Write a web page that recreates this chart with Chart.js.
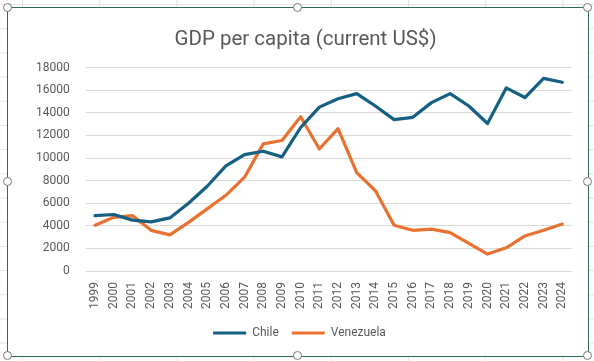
<!DOCTYPE html>
<html>
<head>
<meta charset="utf-8">
<script src="https://cdn.jsdelivr.net/npm/chart.js@4"></script>
<style>
  body {
    margin: 0;
    width: 594px;
    height: 361px;
    overflow: hidden;
    background-color: #fff;
    background-image:
      linear-gradient(to right, #e2e2e2 1px, transparent 1px),
      linear-gradient(to bottom, #e2e2e2 1px, transparent 1px);
    background-size: 77.2px 24.2px;
    background-position: 22px 4px;
    position: relative;
  }
  #frame {
    position: absolute;
    left: 7px;
    top: 7px;
    width: 580px;
    height: 348px;
    border: 1px solid #2f6b52;
    background: #fff;
  }
  .handle {
    position: absolute;
    width: 7px;
    height: 7px;
    margin: -5px 0 0 -5px;
    border: 1.5px solid #777;
    border-radius: 50%;
    background: #fff;
  }
</style>
</head>
<body>
<div id="frame"><canvas id="myChart" width="580" height="348"></canvas></div>
<div class="handle" style="left:7.5px;top:7.5px"></div>
<div class="handle" style="left:297.5px;top:7.5px"></div>
<div class="handle" style="left:587.5px;top:7.5px"></div>
<div class="handle" style="left:7.5px;top:181.5px"></div>
<div class="handle" style="left:587.5px;top:181.5px"></div>
<div class="handle" style="left:7.5px;top:355.5px"></div>
<div class="handle" style="left:297.5px;top:355.5px"></div>
<div class="handle" style="left:587.5px;top:355.5px"></div>
<script>
// years on the x axis
const years = ['1999', '2000', '2001', '2002', '2003', '2004', '2005', '2006', '2007', '2008',
  '2009', '2010', '2011', '2012', '2013', '2014', '2015', '2016', '2017', '2018',
  '2019', '2020', '2021', '2022', '2023', '2024'];

// GDP per capita, current US$
const chile = [4900, 5000, 4500, 4350, 4700, 6000, 7500, 9300, 10300, 10600,
  10100, 12700, 14500, 15250, 15700, 14600, 13400, 13600, 14900, 15700,
  14600, 13050, 16200, 15350, 17050, 16700];
const venezuela = [4050, 4750, 4900, 3600, 3200, 4300, 5500, 6700, 8300, 11250,
  11550, 13650, 10800, 12600, 8700, 7100, 4050, 3600, 3700, 3400,
  2450, 1500, 2050, 3100, 3600, 4150];

const yMin = 0;
const yMax = 18000;
const yStep = 2000;

const textColor = '#595959';
const font = 'Roboto, "Liberation Sans", sans-serif';

// Excel puts the title (and legend a bit) right of centre
const nudge = {
  id: 'nudge',
  afterLayout(chart) {
    if (chart.titleBlock) chart.titleBlock.left += 19;
    if (chart.legend) chart.legend.left += 7;
  }
};

const ctx = document.getElementById('myChart').getContext('2d');
new Chart(ctx, {
  type: 'line',
  data: {
    labels: years,
    datasets: [
      {
        label: 'Chile',
        data: chile,
        borderColor: '#156082',
        backgroundColor: '#156082',
        borderWidth: 3.2,
        pointRadius: 0,
        borderJoinStyle: 'round',
        borderCapStyle: 'round'
      },
      {
        label: 'Venezuela',
        data: venezuela,
        borderColor: '#E97132',
        backgroundColor: '#E97132',
        borderWidth: 3.2,
        pointRadius: 0,
        borderJoinStyle: 'round',
        borderCapStyle: 'round'
      }
    ]
  },
  plugins: [nudge],
  options: {
    responsive: false,
    animation: false,
    layout: { padding: { left: 12, right: 16, top: 0, bottom: 7 } },
    plugins: {
      title: {
        display: true,
        text: 'GDP per capita (current US$)',
        color: textColor,
        font: { family: font, size: 20.5, weight: 'normal' },
        padding: { top: 20, bottom: 15 }
      },
      legend: {
        position: 'bottom',
        labels: {
          color: textColor,
          font: { family: font, size: 12 },
          usePointStyle: true,
          pointStyle: 'line',
          pointStyleWidth: 33,
          padding: 13
        }
      },
      tooltip: { enabled: false }
    },
    scales: {
      x: {
        offset: true,
        grid: { display: false, drawTicks: false },
        border: { display: false },
        ticks: {
          color: textColor,
          font: { family: font, size: 12 },
          minRotation: 90,
          maxRotation: 90,
          autoSkip: false,
          padding: 11
        },
        afterFit(scale) {
          scale.height = 43;
        }
      },
      y: {
        min: yMin,
        max: yMax,
        grid: { color: '#d9d9d9', drawTicks: false },
        border: { display: false },
        ticks: {
          stepSize: yStep,
          color: textColor,
          font: { family: font, size: 12 },
          padding: 16,
          callback: value => String(value)
        }
      }
    }
  }
});
</script>
</body>
</html>
